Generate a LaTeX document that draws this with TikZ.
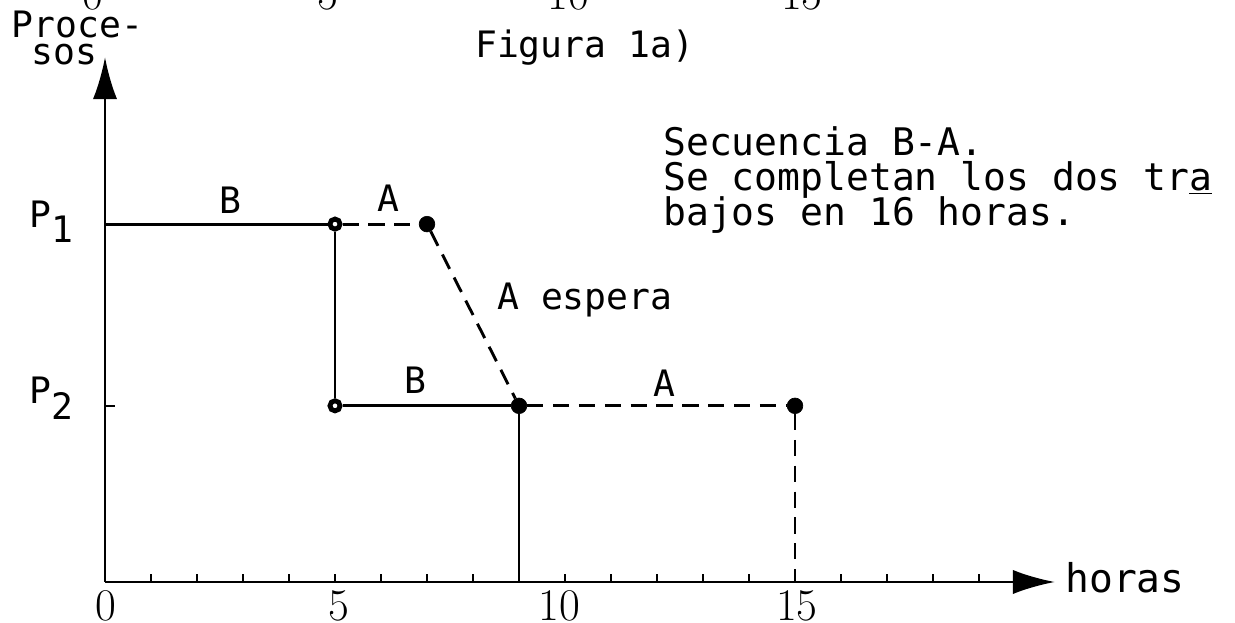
\documentclass[tikz,border=0pt]{standalone}
\usepackage{fontspec}
\setmonofont{DejaVu Sans Mono}
\usetikzlibrary{arrows.meta}
\begin{document}
\begin{tikzpicture}[
    typed/.style={font=\ttfamily\fontsize{22.5}{26}\selectfont, inner sep=0pt},
    bigtyped/.style={font=\ttfamily\fontsize{23.5}{27}\selectfont, inner sep=0pt},
    numlabel/.style={font=\fontsize{28}{30}\selectfont, inner sep=0pt},
    dot/.style={draw, circle, fill=black, minimum size=0.34cm, inner sep=0pt},
    opendot/.style={draw, circle, fill=white, line width=3pt, minimum size=0.22cm, inner sep=0pt},
    job/.style={line width=1.8pt},
    waiting/.style={line width=1.8pt, dash pattern=on 10pt off 6pt},
    axis/.style={line width=1.6pt, -{Latex[length=26pt,width=15pt]}}
]
\useasboundingbox (-2.283,-0.891) rectangle (24.565,12.652);

\begin{scope}
\clip (-2.283,-0.891) rectangle (24.565,12.652);
\foreach \x/\t in {-0.26/0, 4.85/5, 10.07/10, 15.15/15}
    \node[numlabel, anchor=base] at (\x,12.45) {\t};
\end{scope}

\coordinate (o) at (0,0);
\coordinate (xend) at (20.65,0);
\coordinate (yend) at (0,11.41);
\draw[axis] (o) -- (xend);
\draw[axis] (o) -- (yend);
\foreach \i in {1,...,19}
    \draw[line width=1.4pt] (\i,0) -- (\i,0.17);
\draw[line width=1.4pt] (0,3.83) -- (0.22,3.83);

\foreach \x/\t in {0.02/0, 5.08/5, 9.87/10, 15.04/15}
    \node[numlabel, anchor=base] at (\x,-0.83) {\t};
\node[typed, anchor=base west, font=\ttfamily\fontsize{24.5}{28}\selectfont] (horas) at (20.87,-0.22) {horas};
\node[typed, anchor=base west] (proce) at (-2.03,11.83) {Proce-};
\node[typed, anchor=base west] (sos) at (-1.61,11.24) {sos};
\node[typed, anchor=base west] (pone) at (-1.645,7.70) {P\raisebox{-9pt}{1}};
\node[typed, anchor=base west] (ptwo) at (-1.645,3.89) {P\raisebox{-10pt}{2}};

\node[typed, anchor=base west] (fig) at (8.04,11.41) {Figura 1a)};
\node[bigtyped, anchor=base west] (sec) at (12.13,9.28) {Secuencia B-A.};
\node[bigtyped, anchor=base west] (comp) at (12.13,8.51) {Se completan los dos tr\underline{a}};
\node[bigtyped, anchor=base west] (bajos) at (12.13,7.74) {bajos en 16 horas.};

\coordinate (p1) at (0,7.78);
\coordinate (t9) at (9,0);
\coordinate (t15) at (15,0);
\node[opendot] (b1) at (5,7.78) {};
\node[dot] (a1) at (7,7.78) {};
\node[opendot] (b2) at (5,3.83) {};
\node[dot] (a2) at (9,3.83) {};
\node[dot] (a3) at (15,3.83) {};

\draw[job] (p1) -- (b1);
\draw[job] (b1) -- (b2);
\draw[job] (b2) -- (a2);
\draw[job] (a2) -- (t9);
\draw[waiting] (b1) -- (a1);
\draw[waiting] (a1) -- (a2);
\draw[waiting] (a2) -- (a3);
\draw[waiting] (a3) -- (t15);

\node[typed] (lb1) at (2.72,8.30) {B};
\node[typed] (la1) at (6.17,8.35) {A};
\node[typed] (lb2) at (6.74,4.39) {B};
\node[typed] (la2) at (12.17,4.33) {A};
\node[typed, anchor=west] (espera) at (8.52,6.13) {A espera};
\end{tikzpicture}
\end{document}
